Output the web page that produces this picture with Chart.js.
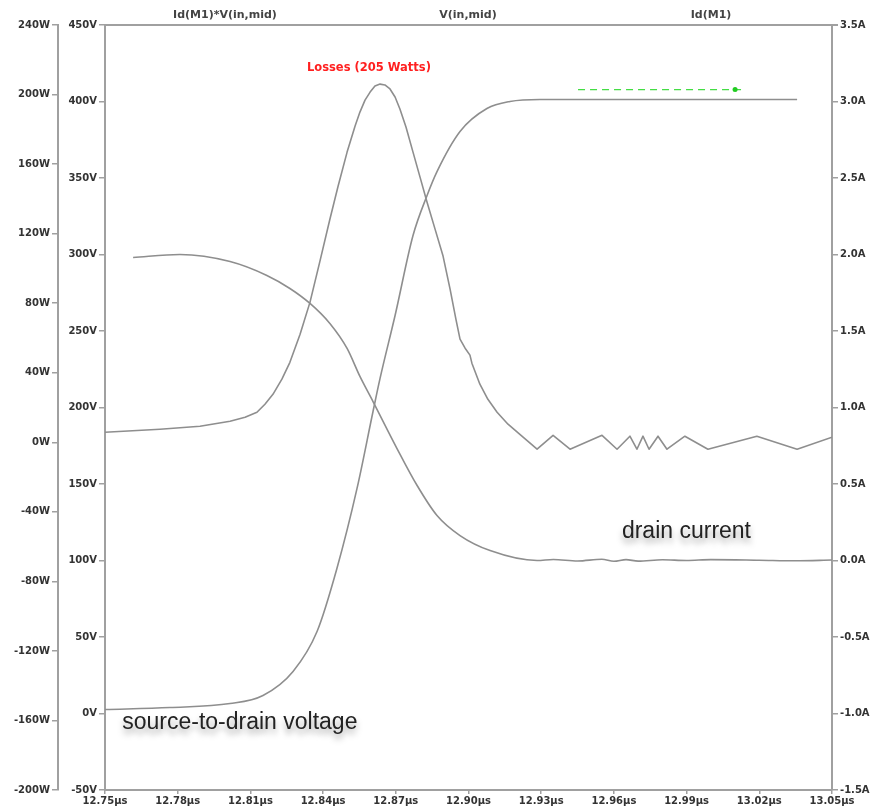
<!DOCTYPE html>
<html>
<head>
<meta charset="utf-8">
<script src="https://cdn.jsdelivr.net/npm/chart.js@4.4.1/dist/chart.umd.min.js"></script>
<style>
  html, body { margin: 0; padding: 0; background: #fff; }
  #wrap { width: 879px; height: 812px; position: relative; }
</style>
</head>
<body>
<div id="wrap"><canvas id="chart"></canvas></div>
<script>
// time axis (µs)
const xTicks = [12.75, 12.78, 12.81, 12.84, 12.87, 12.90, 12.93, 12.96, 12.99, 13.02, 13.05];

// Id(M1)*V(in,mid) - losses in W
const powerTime = [12.75, 12.7727, 12.7892, 12.8016, 12.8078, 12.8127, 12.8160, 12.8193, 12.8230, 12.8263,
  12.8305, 12.8346, 12.8387, 12.8428, 12.8461, 12.8499, 12.8532, 12.8552, 12.8573, 12.8594,
  12.8614, 12.8635, 12.8655, 12.8676, 12.8697, 12.8717, 12.8742, 12.8771, 12.8800, 12.8829,
  12.8862, 12.8895, 12.8924, 12.8948, 12.8965, 12.8986, 12.9006, 12.9014, 12.9047,
  12.9080, 12.9118, 12.9163, 12.9212,
  12.9283, 12.9349, 12.9419, 12.9551, 12.9613, 12.9666, 12.9695, 12.9720, 12.9745, 12.9782,
  12.9819, 12.9893, 12.9988, 13.0190, 13.0356, 13.05];
const powerW = [5.8, 7.5, 9.2, 12.1, 14.4, 17.3, 21.9, 27.6, 36.3, 46.0,
  62.1, 80.6, 104.2, 128.3, 146.8, 166.9, 181.9, 189.9, 196.8, 201.4,
  204.9, 206.0, 205.5, 203.2, 198.6, 191.7, 181.3, 166.9, 152.5, 138.1,
  122.6, 107.1, 88.1, 70.8, 59.3, 54.1, 50.1, 45.5, 33.4,
  24.7, 17.3, 10.4, 4.6,
  -4.0, 4.0, -4.0, 4.0, -4.0, 3.5, -4.0, 3.5, -4.0, 3.5,
  -4.0, 3.5, -4.0, 3.5, -4.0, 2.9];

// V(in,mid) - source-to-drain voltage
const voltTime = [12.75, 12.7768, 12.8016, 12.8152, 12.8276, 12.8375, 12.8457, 12.8540, 12.8606, 12.8635,
  12.8697, 12.8771, 12.8829, 12.8870, 12.8965, 12.9076, 12.9171, 12.9295, 13.0356];
const voltV = [2.6, 3.9, 6.5, 11.8, 27.5, 53.6, 94.8, 147.1, 197.4, 219.0,
  260.1, 312.4, 338.6, 354.2, 380.4, 395.4, 400.0, 401.3, 401.3];

// Id(M1) - drain current
const currTime = [12.7616, 12.7809, 12.8016, 12.8168, 12.8263, 12.8346, 12.8428, 12.8499, 12.8552, 12.8606,
  12.8705, 12.8788, 12.8870, 12.8965, 12.9089, 12.9283, 12.935, 12.945, 12.955, 12.960, 12.965, 12.970,
  12.980, 12.990, 13.000, 13.020, 13.035, 13.05];
const currA = [1.980, 2.000, 1.954, 1.863, 1.778, 1.680, 1.549, 1.386, 1.203, 1.039,
  0.732, 0.490, 0.294, 0.163, 0.065, 0.000, 0.007, -0.003, 0.008, -0.005, 0.006, -0.004,
  0.005, 0.000, 0.006, 0.002, -0.002, 0.003];

// green cursor trace
const cursorTime = [12.9452, 13.0100, 13.0141];
const cursorV = [407.8, 407.8, 407.8];

const traceTitles = ["Id(M1)*V(in,mid)", "V(in,mid)", "Id(M1)"];
const titleTime = [12.7995, 12.8998, 13.0001];

const pts = (xs, ys) => xs.map((x, i) => ({ x: x, y: ys[i] }));

const tickFont = { family: "'DejaVu Sans', sans-serif", size: 10, weight: 'bold' };
const axisGrey = '#a0a0a0';
const traceGrey = '#8e8e8e';

function yAxis(pos, min, max, step, unit, width, weight, digits) {
  return {
    type: 'linear',
    position: pos,
    min: min,
    max: max,
    weight: weight,
    afterFit: s => { s.width = width; },
    afterBuildTicks: s => {
      const t = [];
      for (let v = min; v <= max + 1e-9; v += step) t.push({ value: +v.toFixed(6) });
      s.ticks = t;
    },
    ticks: {
      color: '#333',
      font: tickFont,
      padding: 2,
      callback: v => v.toFixed(digits) + unit
    },
    grid: { drawOnChartArea: false, tickLength: 6, color: axisGrey, lineWidth: 1.5 },
    border: { display: true, color: axisGrey, width: 2 }
  };
}

// annotation texts
const overlay = {
  id: 'overlay',
  afterDatasetsDraw(chart) {
    const ctx = chart.ctx;
    const { x, yW, yV, yA } = chart.scales;
    const area = chart.chartArea;
    ctx.save();

    // top border
    ctx.strokeStyle = axisGrey;
    ctx.lineWidth = 2;
    ctx.beginPath();
    ctx.moveTo(area.left, area.top);
    ctx.lineTo(area.right + 6, area.top);
    ctx.stroke();

    // trace titles
    ctx.fillStyle = '#444';
    ctx.font = "bold 11px 'DejaVu Sans', sans-serif";
    ctx.textAlign = 'center';
    ctx.textBaseline = 'middle';
    traceTitles.forEach((t, i) => ctx.fillText(t, x.getPixelForValue(titleTime[i]), area.top - 10));

    // losses label
    ctx.fillStyle = '#ff2020';
    ctx.font = "bold 11.5px 'DejaVu Sans', sans-serif";
    ctx.fillText('Losses (205 Watts)', x.getPixelForValue(12.8589), yW.getPixelForValue(215));

    // big labels with soft shadow
    ctx.font = "23px 'Liberation Sans', Arial, sans-serif";
    ctx.textAlign = 'left';
    ctx.textBaseline = 'alphabetic';
    ctx.fillStyle = '#222';
    ctx.shadowColor = 'rgba(0,0,0,0.35)';
    ctx.shadowBlur = 6;
    ctx.shadowOffsetY = 5;
    ctx.fillText('source-to-drain voltage', x.getPixelForValue(12.7571), yV.getPixelForValue(-10));
    ctx.fillText('drain current', x.getPixelForValue(12.9633), yA.getPixelForValue(0.15));
    ctx.restore();
  }
};

new Chart(document.getElementById('chart'), {
  type: 'line',
  data: {
    datasets: [
      { label: 'Id(M1)*V(in,mid)', data: pts(powerTime, powerW), yAxisID: 'yW', cubicInterpolationMode: 'default', tension: 0 },
      { label: 'V(in,mid)', data: pts(voltTime, voltV), yAxisID: 'yV' },
      { label: 'Id(M1)', data: pts(currTime, currA), yAxisID: 'yA' },
      {
        label: 'cursor', data: pts(cursorTime, cursorV), yAxisID: 'yV',
        borderColor: '#44dd44', borderWidth: 1.2, borderDash: [7, 5],
        pointRadius: [0, 2.5, 0], pointBackgroundColor: '#22cc22', pointBorderWidth: 0,
        cubicInterpolationMode: 'default', tension: 0
      }
    ]
  },
  options: {
    responsive: true,
    maintainAspectRatio: false,
    animation: false,
    layout: { padding: { top: 25, left: 0, right: 0, bottom: 0 } },
    elements: {
      line: { borderColor: traceGrey, borderWidth: 1.6, cubicInterpolationMode: 'monotone', fill: false, borderJoinStyle: 'round' },
      point: { radius: 0 }
    },
    plugins: { legend: { display: false }, tooltip: { enabled: false } },
    scales: {
      x: {
        type: 'linear',
        min: 12.75,
        max: 13.05,
        afterFit: s => { s.height = 22; },
        afterBuildTicks: s => { s.ticks = xTicks.map(v => ({ value: v })); },
        ticks: {
          color: '#333',
          font: tickFont,
          padding: 1,
          maxRotation: 0,
          autoSkip: false,
          callback: v => v.toFixed(2) + 'µs'
        },
        grid: { drawOnChartArea: false, tickLength: 4, color: axisGrey, lineWidth: 1.5 },
        border: { display: true, color: axisGrey, width: 2 }
      },
      yW: yAxis('left', -200, 240, 40, 'W', 58, 1, 0),
      yV: yAxis('left', -50, 450, 50, 'V', 47, 0, 0),
      yA: yAxis('right', -1.5, 3.5, 0.5, 'A', 47, 0, 1)
    }
  },
  plugins: [overlay]
});
</script>
</body>
</html>
